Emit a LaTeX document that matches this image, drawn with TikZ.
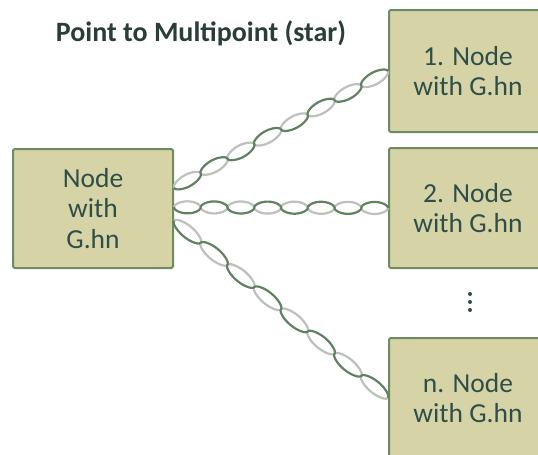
\documentclass[tikz,border=0pt]{standalone}
\usepackage{fontspec}
\setmainfont{Carlito}
\usetikzlibrary{calc}
\definecolor{boxfill}{HTML}{D6D3A7}
\definecolor{boxline}{HTML}{6E8B62}
\definecolor{txt}{HTML}{2E4E49}
\definecolor{ttl}{HTML}{2B3D38}
\definecolor{darkstrand}{HTML}{628062}
\definecolor{lightstrand}{HTML}{BCC1BC}
\tikzset{
  gbox/.style={draw=boxline, line width=2pt, fill=boxfill, rounded corners=1.5pt,
    text=txt, font=\fontsize{27.5}{30.5}\selectfont, align=center, inner sep=0pt},
  strandlight/.style={draw=lightstrand, line width=2.2pt},
  stranddark/.style={draw=darkstrand, line width=2.2pt},
}
% twisted pair between two named coordinates, #3 = number of lobes
\newcommand\twistedpair[3]{%
  \path let \p1=($(#2)-(#1)$) in
    \pgfextra{\pgfmathsetmacro\tpLen{veclen(\x1,\y1)}%
              \pgfmathsetmacro\tpAng{atan2(\y1,\x1)}%
              \global\let\tpLen\tpLen \global\let\tpAng\tpAng};
  \pgfmathsetmacro\tpLobe{\tpLen/#3}%
  \begin{scope}[shift={(#1)}, rotate=\tpAng]
    \draw[strandlight] plot[smooth, samples=400, domain=0:\tpLen]
      (\x,{-6*sign(sin(\x/\tpLobe*180))*sqrt(abs(sin(\x/\tpLobe*180)))});
    \draw[stranddark] plot[smooth, samples=400, domain=0:\tpLen]
      (\x,{6*sign(sin(\x/\tpLobe*180))*sqrt(abs(sin(\x/\tpLobe*180)))});
  \end{scope}}
\begin{document}
\begin{tikzpicture}[x=1pt,y=-1pt]
\useasboundingbox (0,0) rectangle (538,455);
\clip (0,0) rectangle (538,455);
\fill[white] (0,0) rectangle (538,455);

\node[font=\bfseries\fontsize{28}{32}\selectfont, text=ttl] (title) at (201,33) {Point to Multipoint (star)};

\node[gbox, minimum width=160pt, minimum height=119pt] (L) at (93,208.5) {Node\\with\\G.hn};
\node[gbox, minimum width=158pt, minimum height=122pt] (N1) at (468,71) {1. Node\\with G.hn};
\node[gbox, minimum width=158pt, minimum height=120pt] (N2) at (468,208) {2. Node\\with G.hn};
\node[gbox, minimum width=158pt, minimum height=120pt] (Nn) at (468,398) {n. Node\\with G.hn};

\coordinate (a1) at ($(L.north east)!0.33!(L.south east)$);
\coordinate (a2) at ($(L.north east)!0.49!(L.south east)$);
\coordinate (a3) at ($(L.north east)!0.60!(L.south east)$);
\coordinate (b1) at (N1.west);
\coordinate (b2) at (N2.west);
\coordinate (b3) at (Nn.west);

\twistedpair{a1}{b1}{8}
\twistedpair{a2}{b2}{8}
\twistedpair{a3}{b3}{8}

\foreach \yy in {294,302,310}
  \fill[txt] (470,\yy) circle (2pt);
\end{tikzpicture}
\end{document}
